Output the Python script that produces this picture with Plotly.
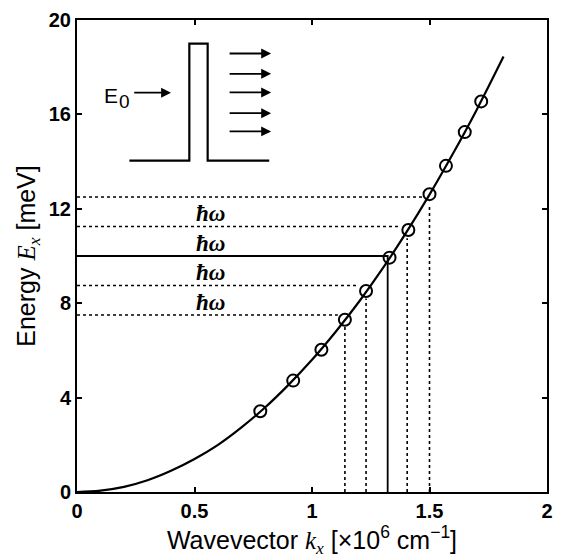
import plotly.graph_objects as go

# ---- data ----
curve_k = [0, 0.1, 0.2, 0.3, 0.4, 0.5, 0.6, 0.7, 0.8, 0.9, 1.0, 1.1, 1.2, 1.3, 1.4, 1.5, 1.6, 1.7, 1.815]
curve_E = [0, 0.06, 0.22, 0.5, 0.9, 1.4, 2.0, 2.74, 3.58, 4.54, 5.6, 6.78, 8.06, 9.46, 10.98, 12.6, 14.34, 16.18, 18.45]

marker_k = [0.78, 0.92, 1.04, 1.14, 1.23, 1.33, 1.41, 1.50, 1.57, 1.65, 1.72]
marker_E = [3.42, 4.72, 6.03, 7.30, 8.52, 9.93, 11.10, 12.62, 13.82, 15.25, 16.55]

# photon-replica levels (dotted) and the injection level (solid)
dotted_levels = [7.5, 8.75, 11.25, 12.5]
dotted_end_k = [1.11, 1.20, 1.37, 1.475]
vert_k = [1.14, 1.23, 1.405, 1.50]
vert_top_E = [7.0, 8.2, 10.75, 12.15]
E0_level = 10.0
k0 = 1.322
hw_label_E = [8.05, 9.3, 10.55, 11.8]
arrow_out_E = [18.58, 17.72, 16.93, 16.05, 15.28]

x_ticks = [0, 0.5, 1, 1.5, 2]
x_tick_text = ["0", "0.5", "1", "1.5", "2"]
y_ticks = [0, 4, 8, 12, 16, 20]
y_tick_text = ["0", "4", "8", "12", "16", "20"]

fig = go.Figure()

# horizontal dotted lines
for E, kend in zip(dotted_levels, dotted_end_k):
    fig.add_trace(go.Scatter(x=[0, kend], y=[E, E], mode="lines",
                             line=dict(color="black", width=1.6, dash="dot"),
                             hoverinfo="skip", showlegend=False))
# vertical dotted lines
for k, Et in zip(vert_k, vert_top_E):
    fig.add_trace(go.Scatter(x=[k, k], y=[0, Et], mode="lines",
                             line=dict(color="black", width=1.6, dash="dot"),
                             hoverinfo="skip", showlegend=False))
# solid injection level
fig.add_trace(go.Scatter(x=[0, k0, k0], y=[E0_level, E0_level, 0], mode="lines",
                         line=dict(color="black", width=1.8),
                         hoverinfo="skip", showlegend=False))
# dispersion curve
fig.add_trace(go.Scatter(x=curve_k, y=curve_E, mode="lines", line_shape="spline",
                         line=dict(color="black", width=2.2), showlegend=False))
# circles
fig.add_trace(go.Scatter(x=marker_k, y=marker_E, mode="markers",
                         marker=dict(symbol="circle-open", size=12, color="black",
                                     line=dict(width=2, color="black")),
                         showlegend=False))

# ħω labels
for E in hw_label_E:
    fig.add_annotation(x=0.57, y=E, text="<b><i>ħω</i></b>", showarrow=False,
                       font=dict(family="Liberation Serif", size=23, color="black"),
                       xanchor="center", yanchor="middle")

# ---- inset: barrier schematic ----
line_style = dict(color="black", width=2.2)
fig.add_shape(type="path",
              path="M 0.223 14.04 L 0.478 14.04 L 0.478 19.0 L 0.556 19.0 L 0.556 14.04 L 0.818 14.04",
              xref="x", yref="y", line=line_style)
# incoming arrow
fig.add_annotation(x=0.40, y=16.92, ax=0.237, ay=16.92, xref="x", yref="y",
                   axref="x", ayref="y", text="", showarrow=True,
                   arrowhead=2, arrowsize=1.1, arrowwidth=1.8, arrowcolor="black")
fig.add_annotation(x=0.145, y=16.81, text="E", showarrow=False,
                   xanchor="center", yanchor="middle",
                   font=dict(family="Liberation Sans", size=21, color="black"))
fig.add_annotation(x=0.200, y=16.55, text="0", showarrow=False,
                   xanchor="center", yanchor="middle",
                   font=dict(family="Liberation Sans", size=19, color="black"))
# transmitted arrows
for E in arrow_out_E:
    fig.add_annotation(x=0.826, y=E, ax=0.643, ay=E, xref="x", yref="y",
                       axref="x", ayref="y", text="", showarrow=True,
                       arrowhead=2, arrowsize=1.1, arrowwidth=1.8, arrowcolor="black")

axis_common = dict(showline=True, linecolor="black", linewidth=2, mirror="ticks",
                   ticks="inside", ticklen=5, tickwidth=1.5, tickcolor="black",
                   showgrid=False, zeroline=False,
                   tickfont=dict(family="Liberation Sans", size=20, color="black"))

fig.update_xaxes(range=[0, 2], tickvals=x_ticks,
                 ticktext=["<b>%s</b>" % t for t in x_tick_text],
                 title=dict(text="Wavevector <i><span style='font-family:Liberation Serif'>k<sub>x</sub></span></i> [×10<sup>6</sup> cm<sup>−1</sup>]",
                            font=dict(family="Liberation Sans", size=25, color="black"),
                            standoff=8),
                 **axis_common)
fig.update_yaxes(range=[0, 20], tickvals=y_ticks,
                 ticktext=["<b>%s</b>" % t for t in y_tick_text],
                 title=dict(text="Energy <i><span style='font-family:Liberation Serif'>E<sub>x</sub></span></i> [meV]",
                            font=dict(family="Liberation Sans", size=25, color="black"),
                            standoff=6),
                 **axis_common)

fig.update_layout(width=562, height=560, margin=dict(l=77, r=9, t=12, b=68),
                  plot_bgcolor="white", paper_bgcolor="white", showlegend=False)

fig.write_html("out.html")
